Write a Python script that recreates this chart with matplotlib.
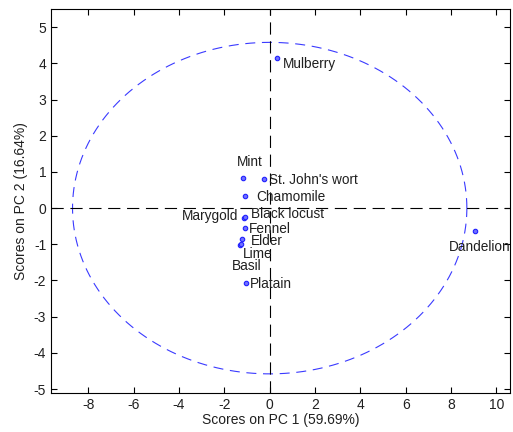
import numpy as np
import matplotlib
matplotlib.use('Agg')
import matplotlib.pyplot as plt

plt.rcParams['font.family'] = ['Liberation Sans', 'DejaVu Sans']
plt.rcParams['axes.unicode_minus'] = False

# PCA scores (PC1, PC2)
names = ['Mulberry', 'Mint', "St. John's wort", 'Chamomile', 'Marygold', 'Black locust',
         'Fennel', 'Elder', 'Lime', 'Basil', 'Platain', 'Dandelion']
pc1 = [0.31, -1.17, -0.25, -1.10, -1.12, -1.08, -1.10, -1.22, -1.31, -1.28, -1.06, 9.06]
pc2 = [4.16, 0.84, 0.80, 0.34, -0.26, -0.24, -0.56, -0.85, -1.02, -1.00, -2.07, -0.63]
# where each label sits (data coords) and how it is aligned
lab_x = [0.57, -0.88, -0.03, -0.59, -1.40, -0.81, -0.91, -0.84, -1.17, -1.66, -0.88, 7.90]
lab_y = [3.97, 1.27, 0.79, 0.30, -0.22, -0.15, -0.57, -0.92, -1.26, -1.59, -2.09, -1.07]
lab_ha = ['left', 'center', 'left', 'left', 'right', 'left', 'left', 'left', 'left',
          'left', 'left', 'left']

# 95% confidence ellipse semi-axes
ell_a, ell_b = 8.7, 4.58

xlabel = 'Scores on PC 1 (59.69%)'
ylabel = 'Scores on PC 2 (16.64%)'

fig = plt.figure(figsize=(5.13, 4.32), dpi=100)
ax = fig.add_axes([0.0994, 0.091, 0.8946, 0.888])

t = np.linspace(0, 2 * np.pi, 400)
ax.plot(ell_a * np.cos(t), ell_b * np.sin(t), color='#3a3aff', lw=0.8,
        linestyle=(0, (9, 6)))
ax.axhline(0, color='black', lw=0.8, linestyle=(0, (11, 6)))
ax.axvline(0, color='black', lw=0.8, linestyle=(0, (11, 6)))

ax.plot(pc1, pc2, 'o', ms=3.2, mfc='#7070ff', mec='#2020ff', mew=0.8, ls='none')
for n, x, y, ha in zip(names, lab_x, lab_y, lab_ha):
    ax.text(x, y, n, ha=ha, va='center', fontsize=9.8, color='#202020')

ax.set_xlim(-9.65, 10.6)
ax.set_ylim(-5.1, 5.5)
ax.set_xticks(np.arange(-8, 11, 2))
ax.set_yticks(np.arange(-5, 6, 1))
ax.tick_params(direction='in', top=True, right=True, length=4, labelsize=10,
               labelcolor='#202020')
ax.set_xlabel(xlabel, fontsize=10, color='#202020', labelpad=1)
ax.set_ylabel(ylabel, fontsize=10, color='#202020', labelpad=4)
for s in ax.spines.values():
    s.set_linewidth(0.8)

fig.savefig('out.png', dpi=100)
